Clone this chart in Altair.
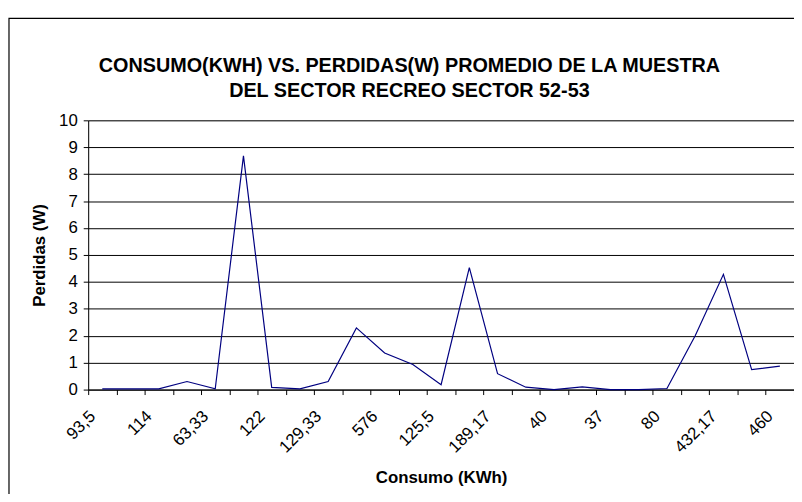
import json
import altair as alt
import pandas as pd

# Categories (consumo, KWh) — only every other label is shown on the axis
consumo = ["93,5", "", "114", "", "63,33", "", "122", "", "129,33", "", "576", "",
           "125,5", "", "189,17", "", "40", "", "37", "", "80", "", "432,17", "", "460"]
# Perdidas (W)
perdidas = [0.03, 0.03, 0.03, 0.30, 0.03, 8.68, 0.08, 0.03, 0.30, 2.29, 1.36, 0.93,
            0.18, 4.53, 0.59, 0.09, 0.00, 0.10, 0.00, 0.00, 0.04, 2.00, 4.28, 0.74, 0.87]
y_ticks = list(range(0, 11))

title_lines = ["CONSUMO(KWH) VS. PERDIDAS(W) PROMEDIO DE LA MUESTRA",
               "DEL SECTOR RECREO SECTOR 52-53"]

df = pd.DataFrame({"idx": list(range(len(perdidas))), "consumo": consumo, "perdidas": perdidas})

FONT = "Liberation Sans"
W, H = 713, 272

label_expr = json.dumps(consumo) + "[datum.value]"

one = alt.Data(values=[{}])

border = alt.Chart(one).mark_rect(
    filled=False, stroke="black", strokeWidth=1.2
).encode(
    x=alt.value(-80), x2=alt.value(W + 40), y=alt.value(-103), y2=alt.value(H + 160)
)

title = alt.Chart(one).mark_text(
    font=FONT, fontSize=20, fontWeight="bold", color="black",
    align="center", baseline="alphabetic", lineHeight=25
).encode(
    x=alt.value(W / 2 - 32), y=alt.value(-49), text=alt.value(title_lines)
)

line = alt.Chart(df).mark_line(color="#000080", strokeWidth=1.2).encode(
    x=alt.X("idx:O", bandPosition=0.5,
            scale=alt.Scale(type="band", paddingInner=0, paddingOuter=0),
            axis=alt.Axis(title="Consumo (KWh)", labelExpr=label_expr,
                          labelAngle=-45, labelAlign="right", labelBaseline="middle",
                          labelPadding=19, labelOffset=-10,
                          labelFont=FONT, labelFontSize=17, labelColor="black",
                          tickBand="extent", tickSize=5, tickColor="black",
                          domainColor="black", grid=False,
                          titleFont=FONT, titleFontSize=17, titleFontWeight="bold",
                          titleColor="black", titlePadding=14)),
    y=alt.Y("perdidas:Q",
            scale=alt.Scale(domain=[0, 10], nice=False, zero=True),
            axis=alt.Axis(title="Perdidas (W)", values=y_ticks,
                          labelFont=FONT, labelFontSize=17, labelColor="black",
                          labelPadding=6, tickSize=5, tickColor="black",
                          domainColor="black", grid=True, gridColor="black",
                          gridWidth=1, gridOpacity=1,
                          titleFont=FONT, titleFontSize=17, titleFontWeight="bold",
                          titleColor="black", titlePadding=10)),
)

chart = alt.layer(border, title, line).properties(
    width=W, height=H,
    autosize="none",
    padding={"left": 81, "top": 111, "right": 0, "bottom": 103},
).configure_view(
    fill="#C0C0C0", stroke="black", strokeWidth=1
).configure(background="white")

chart.save("out.html", embed_options={"renderer": "svg", "actions": False})
